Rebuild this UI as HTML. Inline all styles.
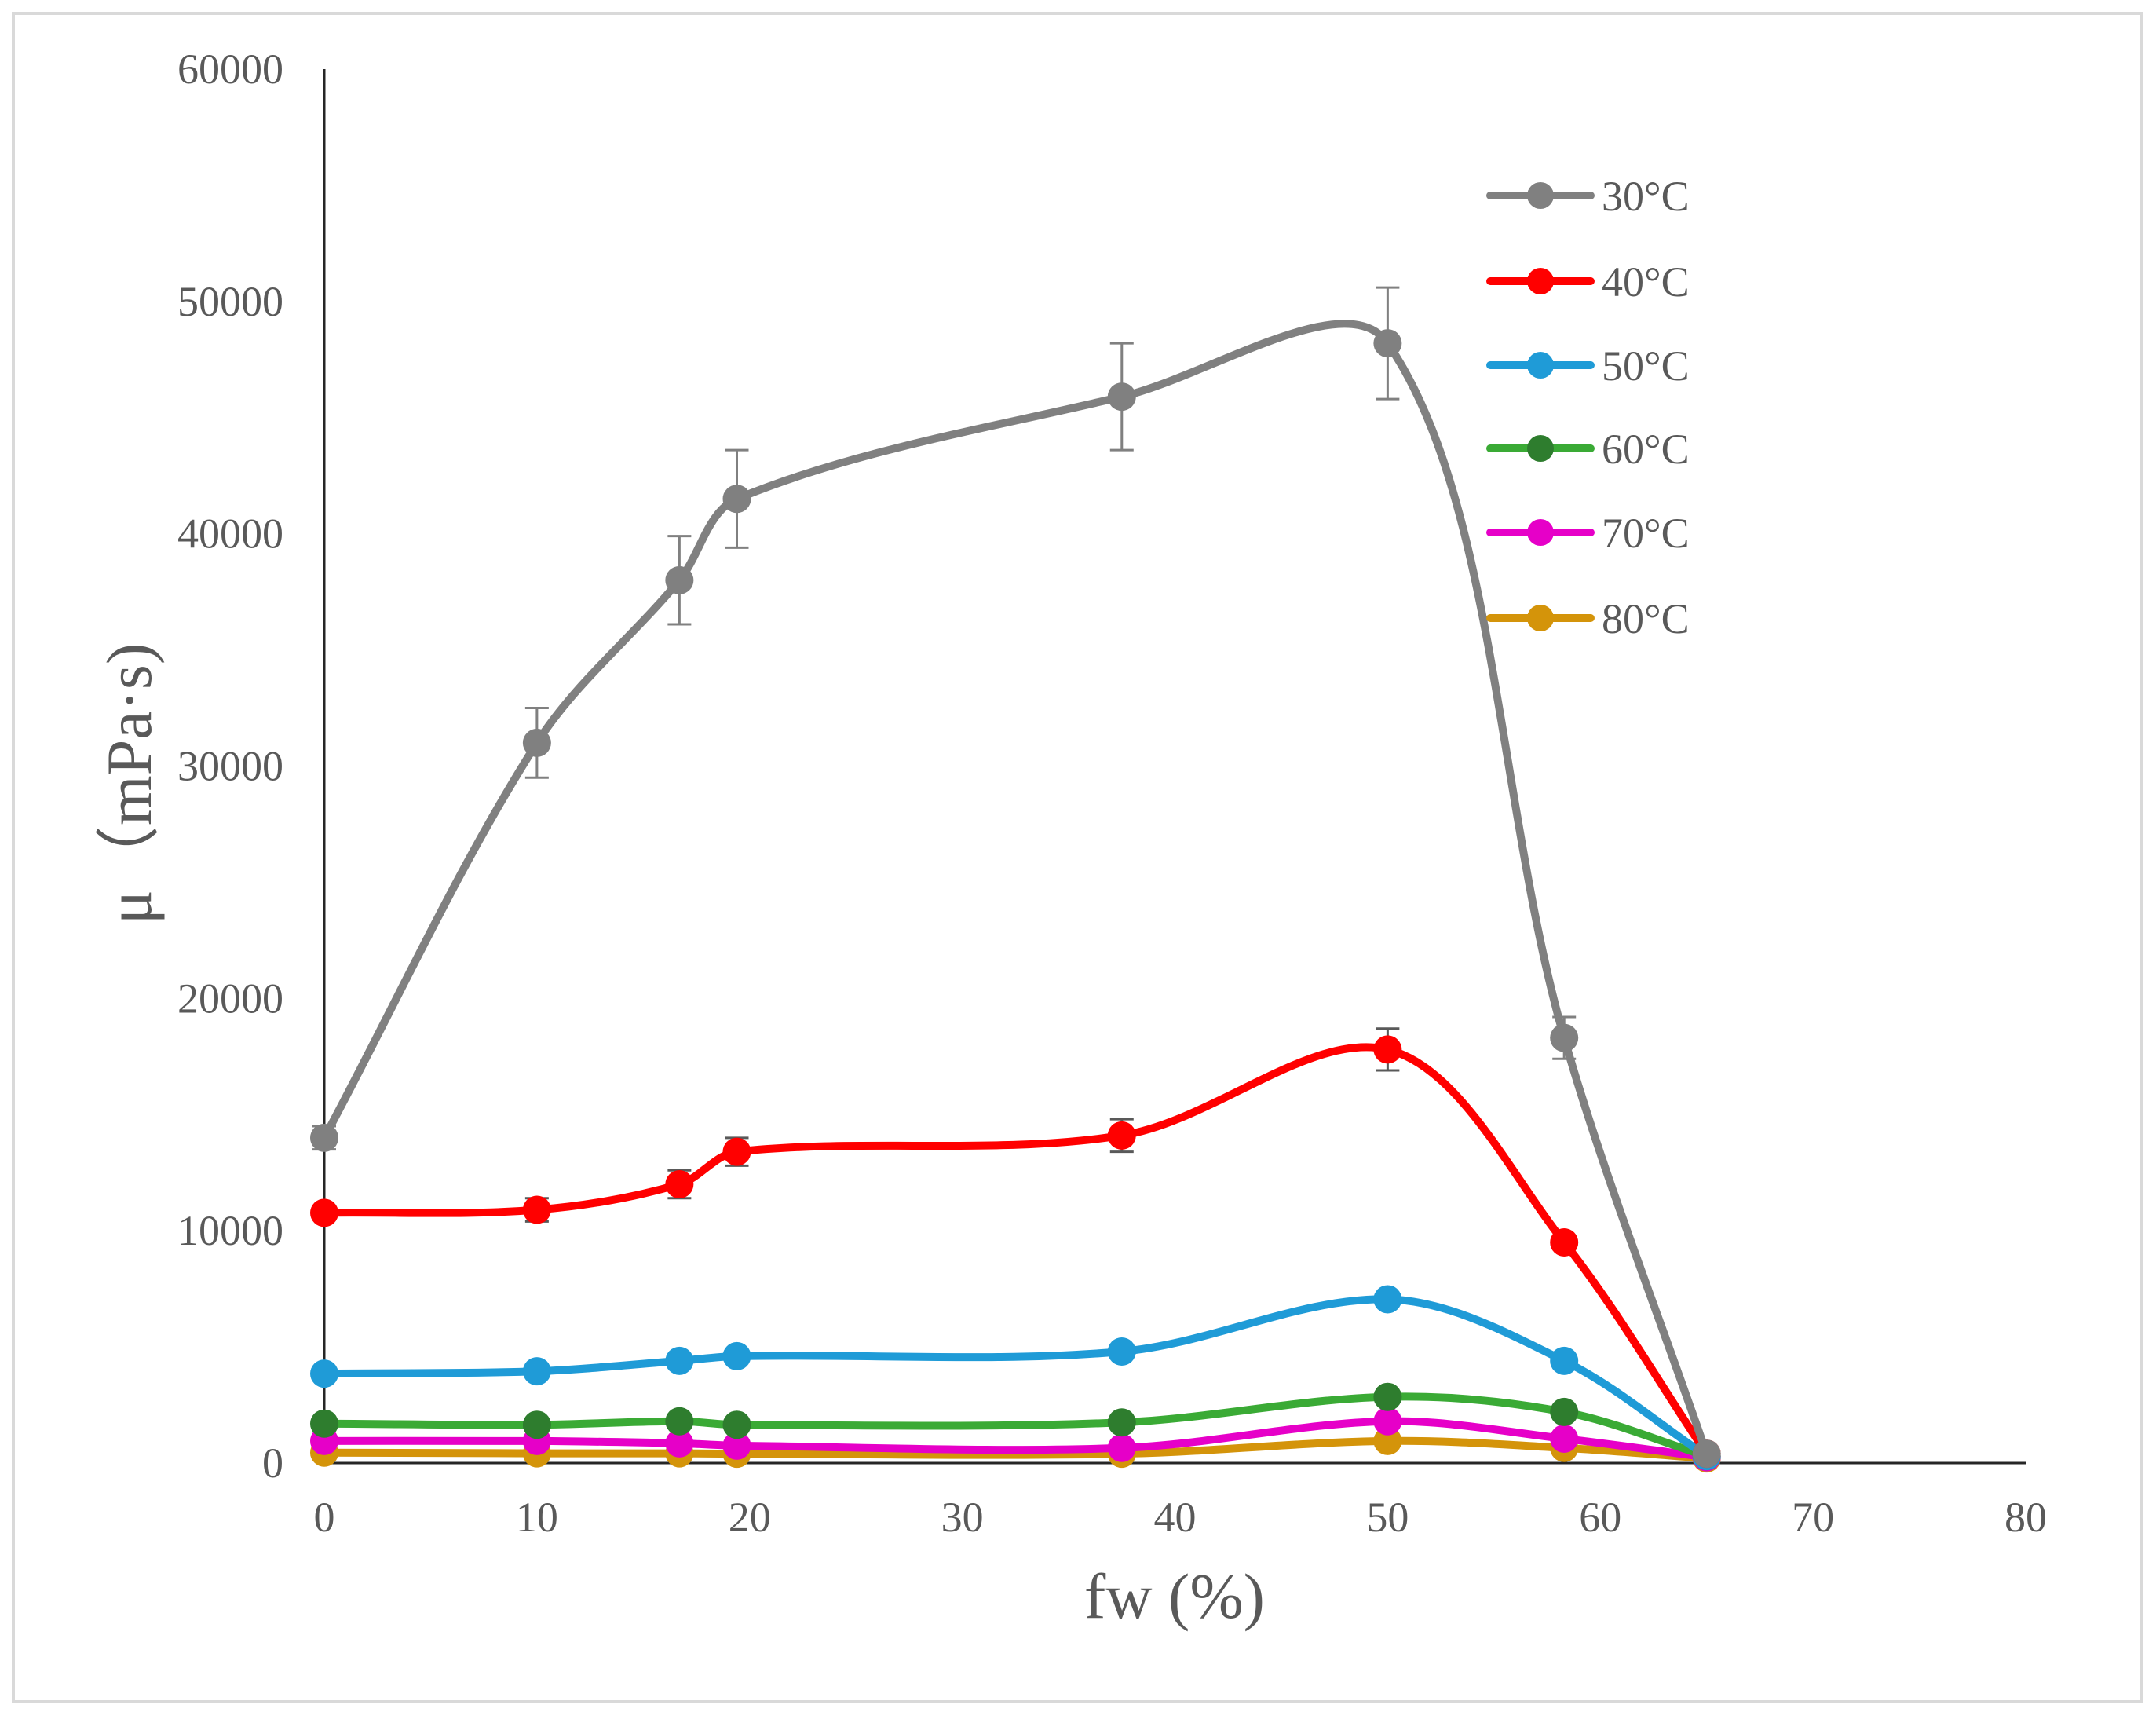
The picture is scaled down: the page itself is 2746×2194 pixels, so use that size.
<!DOCTYPE html>
<html><head><meta charset="utf-8"><style>
html,body{margin:0;padding:0;background:#fff}
svg text{font-family:"Liberation Serif",serif}
</style></head><body>
<svg id="chart" width="2746" height="2189" viewBox="0 0 2746 2189" xmlns="http://www.w3.org/2000/svg">
<rect x="17" y="17" width="2710" height="2150" fill="#fff" stroke="#d9d9d9" stroke-width="4"/>
<g id="plot"></g>
</svg>
<script>
const xCats = [0, 10, 16.7, 19.4, 37.5, 50, 58.3, 65];
const s30 = [14000, 31000, 38000, 41500, 45900, 48200, 18300, 400];
const s40 = [10770, 10900, 12000, 13400, 14100, 17800, 9500, 400];
const s50 = [3850, 3950, 4400, 4600, 4800, 7050, 4400, 300];
const s60 = [1700, 1650, 1800, 1650, 1750, 2850, 2200, 300];
const s70 = [950, 950, 850, 750, 650, 1800, 1050, 250];
const s80 = [450, 420, 420, 400, 400, 950, 650, 200];
const e30 = [500, 1500, 1900, 2100, 2300, 2400, 900, 0];
const e40 = [0, 500, 600, 600, 700, 900, 0, 0];
const xTicks = [0, 10, 20, 30, 40, 50, 60, 70, 80];
const yTicks = [0, 10000, 20000, 30000, 40000, 50000, 60000];
const seriesNames = ["30°C","40°C","50°C","60°C","70°C","80°C"];

const X0=413, X1=2580, Y0=1863, Y1=88;
const sx = v => X0 + (v/80)*(X1-X0);
const sy = v => Y0 - (v/60000)*(Y0-Y1);
const NS="http://www.w3.org/2000/svg";
const g=document.getElementById('plot');
function mk(t,a,p){const e=document.createElementNS(NS,t);for(const k in a)e.setAttribute(k,a[k]);(p||g).appendChild(e);return e;}

let ya=mk('line',{x1:X0,y1:Y1,x2:X0,y2:Y0,stroke:'#262626','stroke-width':3});


let xa=mk('line',{x1:X0,y1:Y0,x2:X1,y2:Y0,stroke:'#262626','stroke-width':3});


yTicks.forEach(v=>{const t=mk('text',{x:X0-52,y:sy(v)+18,'text-anchor':'end','font-size':54,fill:'#595959'});t.textContent=v;

});
xTicks.forEach(v=>{const t=mk('text',{x:sx(v),y:1950,'text-anchor':'middle','font-size':54,fill:'#595959'});t.textContent=v;

});
let xt=mk('text',{x:1496,y:2060,'text-anchor':'middle','font-size':82,fill:'#595959'});xt.textContent='fw (%)';


let yt=mk('text',{x:0,y:0,'text-anchor':'middle','font-size':82,fill:'#595959',transform:'translate(192,998) rotate(-90)'});yt.textContent='μ（mPa·s)';



function smooth(pts){
  let d=`M${pts[0][0]},${pts[0][1]}`;
  for(let i=0;i<pts.length-1;i++){
    const p0=pts[Math.max(i-1,0)],p1=pts[i],p2=pts[i+1],p3=pts[Math.min(i+2,pts.length-1)];
    const d12=Math.hypot(p2[0]-p1[0],p2[1]-p1[1])||1;
    const d01=Math.hypot(p1[0]-p0[0],p1[1]-p0[1]);
    const d23=Math.hypot(p3[0]-p2[0],p3[1]-p2[1]);
    const f1=(d01+d12)?d12/(d01+d12)/3:0;
    const f2=(d12+d23)?d12/(d12+d23)/3:0;
    const c1=[p1[0]+(p2[0]-p0[0])*f1,p1[1]+(p2[1]-p0[1])*f1];
    const c2=[p2[0]-(p3[0]-p1[0])*f2,p2[1]-(p3[1]-p1[1])*f2];
    d+=` C${c1[0]},${c1[1]} ${c2[0]},${c2[1]} ${p2[0]},${p2[1]}`;
  }
  return d;
}
const all=[s30,s40,s50,s60,s70,s80];
const lineCol=['#808080','#ff0000','#1f9bd7','#3aaa35','#e600c8','#d4940a'];
const markCol=['#808080','#ff0000','#1f9bd7','#2e7d2e','#e600c8','#d4940a'];
const errs=[e30,e40,null,null,null,null];
for(let k=all.length-1;k>=0;k--){
  const grp=mk('g',{});
  
  
  const pts=xCats.map((x,i)=>[sx(x),sy(all[k][i])]);
  mk('path',{d:smooth(pts),fill:'none',stroke:lineCol[k],'stroke-width':10,'stroke-linecap':'round'},grp);
  if(errs[k]) errs[k].forEach((e,i)=>{ if(!e) return;
    const x=sx(xCats[i]),a=sy(all[k][i]+e),b=sy(all[k][i]-e);
    const eb=mk('path',{d:`M${x},${a}V${b}M${x-15},${a}H${x+15}M${x-15},${b}H${x+15}`,stroke:k?'#595959':'#808080','stroke-width':3,fill:'none'},grp);
    
    
  });
  pts.forEach(p=>{const c=mk('circle',{cx:p[0],cy:p[1],r:18,fill:markCol[k]},grp);
    
    });
}
const legY=[249,358,465,571,678,787];
seriesNames.forEach((n,k)=>{
  const lg=mk('g',{});
  
  
  mk('line',{x1:1898,y1:legY[k],x2:2026,y2:legY[k],stroke:lineCol[k],'stroke-width':10,'stroke-linecap':'round'},lg);
  mk('circle',{cx:1962,cy:legY[k],r:17,fill:markCol[k]},lg);
  const t=mk('text',{x:2040,y:legY[k]+19,'font-size':54,fill:'#595959'},lg);t.textContent=n;
});
</script>
</body></html>
